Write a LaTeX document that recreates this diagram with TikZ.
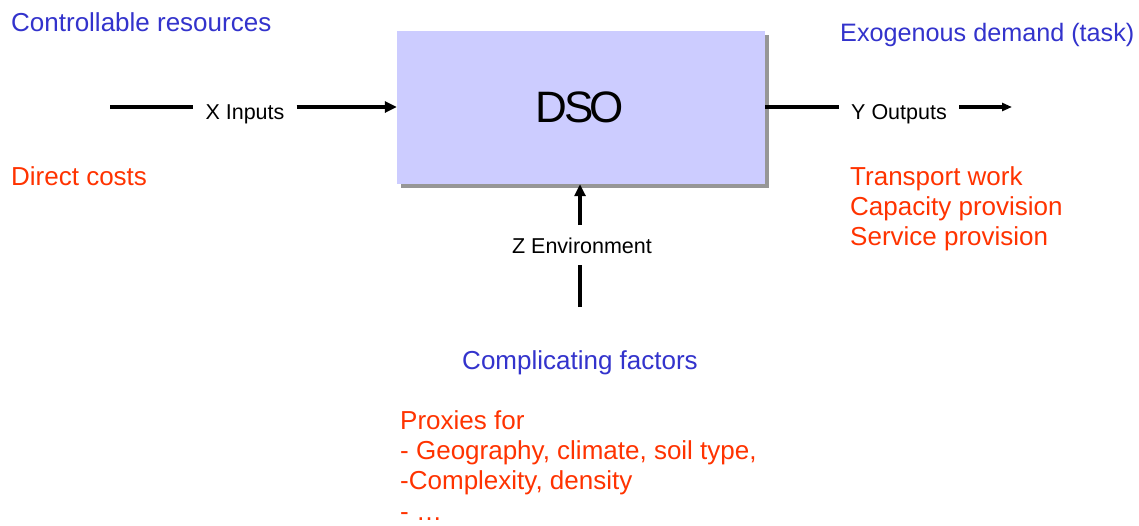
\documentclass[tikz,border=0pt]{standalone}
\usepackage{fontspec}
\setmainfont{Liberation Sans}
\usetikzlibrary{arrows.meta,shadows}
\definecolor{tblue}{RGB}{51,51,204}
\definecolor{tred}{RGB}{255,51,0}
\definecolor{boxfill}{RGB}{204,204,255}
\definecolor{shadowgray}{RGB}{150,150,150}
\tikzset{
  bluetxt/.style={text=tblue,font=\fontsize{26}{30}\selectfont,inner sep=0pt},
  redtxt/.style={text=tred,font=\fontsize{26}{30}\selectfont,inner sep=0pt,anchor=base west},
  lbl/.style={font=\fontsize{21.5}{25}\selectfont,inner xsep=12pt,inner ysep=12pt},
  conn/.style={line width=3.2pt},
  arr/.style={conn,-{Triangle[length=12pt,width=11pt]}},
  arrsmall/.style={conn,-{Triangle[length=10pt,width=8pt]}},
  dsobox/.style={fill=boxfill,minimum width=368pt,minimum height=153pt,inner sep=0pt,
    font=\fontsize{44}{50}\selectfont,
    drop shadow={shadow xshift=4pt,shadow yshift=-4pt,fill=shadowgray,opacity=1}}
}
\begin{document}
\begin{tikzpicture}[x=1pt,y=-1pt]
\useasboundingbox[fill=white] (0,0) rectangle (1139,525);
\node[dsobox] (dso) at (581,107.5) {\kern-2pt D\kern-3.5pt S\kern-3.5pt O};
% left side
\node[bluetxt,anchor=base west] (ctrl) at (11,31) {Controllable resources};
\node[redtxt] (dc) at (11,185) {Direct costs};
\coordinate (xs) at (110,107);
\node[lbl,anchor=base] (xin) at (245,119) {X Inputs};
\draw[conn] (xs) -- (xs -| xin.west);
\draw[arr] (xs -| xin.east) -- (xs -| dso.west);
% right side
\node[bluetxt,anchor=base west,font=\fontsize{25.2}{30}\selectfont] (exo) at (840,41) {Exogenous demand (task)};
\coordinate (ye) at (1012,107);
\node[lbl,anchor=base] (yout) at (899,119) {Y Outputs};
\draw[conn] (ye -| dso.east) -- (ye -| yout.west);
\draw[arrsmall] (ye -| yout.east) -- (ye);
\node[redtxt] (t1) at (850,185) {Transport work};
\node[redtxt] (t2) at (850,215) {Capacity provision};
\node[redtxt] (t3) at (850,245) {Service provision};
% bottom
\coordinate (zs) at (580,307);
\node[lbl,anchor=base] (zenv) at (582,253) {Z Environment};
\draw[conn] (zs) -- (zs |- zenv.south);
\draw[arr] (zs |- zenv.north) -- (zs |- dso.south);
\node[bluetxt,anchor=base] (cf) at (580,369) {Complicating factors};
\node[redtxt] (p1) at (400,429) {Proxies for};
\node[redtxt] (p2) at (400,459) {- Geography, climate, soil type,};
\node[redtxt] (p3) at (400,489) {-Complexity, density};
\node[redtxt] (p4) at (400,520) {- …};
\end{tikzpicture}
\end{document}
